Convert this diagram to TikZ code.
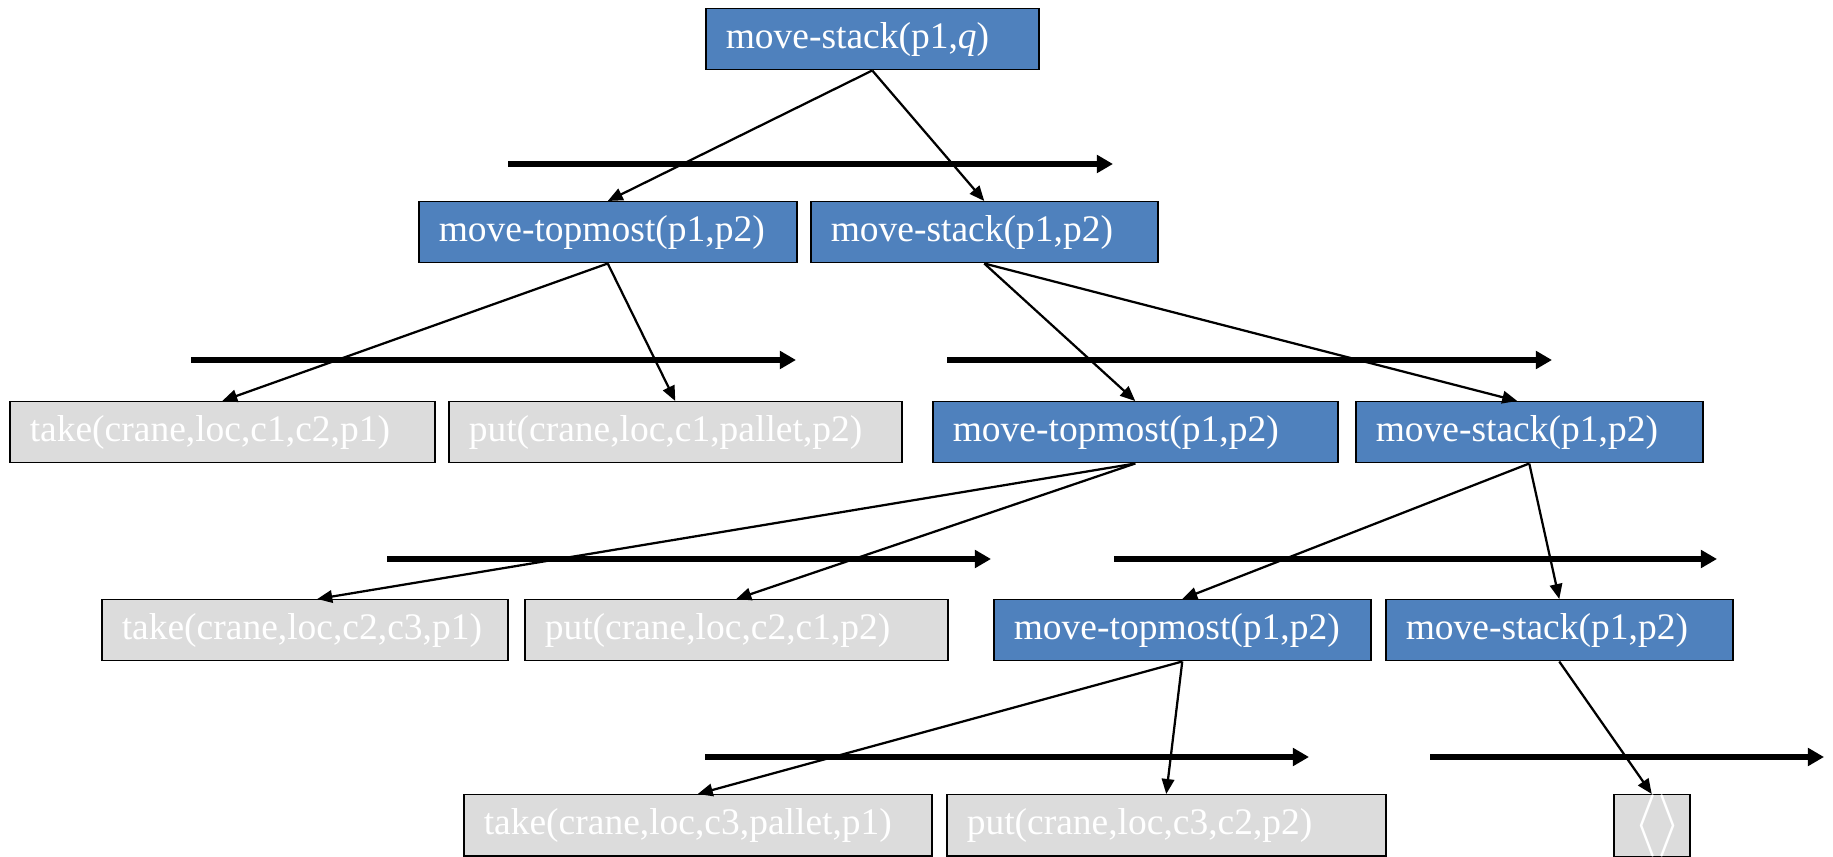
\documentclass[tikz,border=0pt]{standalone}
\usepackage{fontspec}
\setmainfont{Liberation Serif}
\usetikzlibrary{arrows.meta}
\definecolor{taskblue}{HTML}{4F81BD}
\definecolor{actgray}{HTML}{DCDCDC}
\begin{document}
\begin{tikzpicture}[x=0.4pt,y=-0.4pt,
  basebox/.style={draw=black, line width=0.6pt, anchor=north west, minimum height=24.4pt,
    inner xsep=8pt, inner ysep=0pt, text=white, font=\fontsize{15}{18}\selectfont, align=left},
  taskbox/.style={basebox, fill=taskblue},
  actbox/.style={basebox, fill=actgray},
  edgearrow/.style={-{Triangle[length=6pt,width=5pt]}, line width=0.9pt},
  timeline/.style={-{Triangle[length=6.5pt,width=7pt]}, line width=2.4pt}]
\useasboundingbox (0,0) rectangle (1833,857);

% time lines
\coordinate (t1s) at (508,164);  \coordinate (t1e) at (1113,164);
\coordinate (t2s) at (191,360);  \coordinate (t2e) at (796,360);
\coordinate (t3s) at (947,360);  \coordinate (t3e) at (1552,360);
\coordinate (t4s) at (387,559);  \coordinate (t4e) at (991,559);
\coordinate (t5s) at (1114,559); \coordinate (t5e) at (1717,559);
\coordinate (t6s) at (705,757);  \coordinate (t6e) at (1309,757);
\coordinate (t7s) at (1430,757); \coordinate (t7e) at (1824,757);
\foreach \i in {1,...,7} \draw[timeline] (t\i s) -- (t\i e);

% nodes
\node[taskbox, text width=117.2pt] (A) at (705,8) {move-stack(p1,\textit{q})};
\node[taskbox, text width=135.2pt] (B) at (418,201) {move-topmost(p1,p2)};
\node[taskbox, text width=122.8pt] (C) at (810,201) {move-stack(p1,p2)};
\node[actbox, text width=154pt] (D) at (9,401) {take(crane,loc,c1,c2,p1)};
\node[actbox, text width=165.2pt] (E) at (448,401) {put(crane,loc,c1,pallet,p2)};
\node[taskbox, text width=146pt] (F) at (932,401) {move-topmost(p1,p2)};
\node[taskbox, text width=122.8pt] (G) at (1355,401) {move-stack(p1,p2)};
\node[actbox, text width=146.4pt] (H) at (101,599) {take(crane,loc,c2,c3,p1)};
\node[actbox, text width=153.2pt] (I) at (524,599) {put(crane,loc,c2,c1,p2)};
\node[taskbox, text width=134.8pt] (J) at (993,599) {move-topmost(p1,p2)};
\node[taskbox, text width=122.8pt] (K) at (1385,599) {move-stack(p1,p2)};
\node[actbox, text width=171.2pt] (L) at (463,794) {take(crane,loc,c3,pallet,p1)};
\node[actbox, text width=159.6pt] (M) at (946,794) {put(crane,loc,c3,c2,p2)};
\node[actbox, text width=14.4pt, align=center, font=\fontsize{24}{24}\selectfont] (N) at (1613,794) {$\langle\rangle$};

% edges
\draw[edgearrow] (A.south) -- (B.north);
\draw[edgearrow] (A.south) -- (C.north);
\draw[edgearrow] (B.south) -- (D.north);
\draw[edgearrow] (B.south) -- (E.north);
\draw[edgearrow] (C.south) -- (F.north);
\draw[edgearrow] (C.south) -- ([xshift=-4.8pt]G.north);
\draw[edgearrow] (F.south) -- ([xshift=5pt]H.north);
\draw[edgearrow] (F.south) -- (I.north);
\draw[edgearrow] (G.south) -- (J.north);
\draw[edgearrow] (G.south) -- (K.north);
\draw[edgearrow] (J.south) -- (L.north);
\draw[edgearrow] (J.south) -- (M.north);
\draw[edgearrow] (K.south) -- (N.north);
\end{tikzpicture}
\end{document}
